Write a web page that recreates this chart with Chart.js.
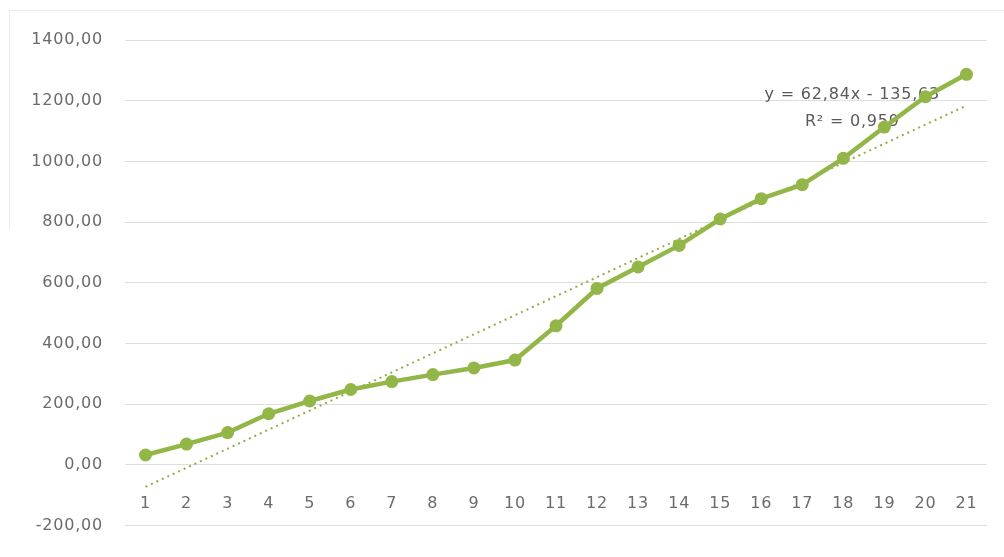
<!DOCTYPE html>
<html lang="es">
<head>
    <meta charset="UTF-8">
    <title>Serie con línea de tendencia</title>
    <script src="https://cdn.jsdelivr.net/npm/chart.js@4.4.0/dist/chart.umd.min.js"></script>
    <style>
        body { margin: 0; background: #fff; }
        #wrap { position: relative; width: 1004px; height: 557px; }
        #frameTop { position: absolute; left: 9px; top: 10px; width: 995px; height: 0; border-top: 1px solid #ececec; }
        #frameLeft { position: absolute; left: 9px; top: 10px; width: 0; height: 220px; border-left: 1px solid #ececec; }
    </style>
</head>
<body>
<div id="wrap">
    <div id="frameTop"></div>
    <div id="frameLeft"></div>
    <canvas id="chart" width="1004" height="557"></canvas>
</div>
<script>
    const labels = ['1','2','3','4','5','6','7','8','9','10','11','12','13','14','15','16','17','18','19','20','21'];
    const values = [32, 68, 106, 168, 210, 248, 274, 297, 319, 345, 458, 581, 652, 723, 810, 877, 923, 1010, 1113, 1213, 1287];
    const yTicks = [-200, 0, 200, 400, 600, 800, 1000, 1200, 1400];

    // trendline as given by the equation label
    const trendSlope = 62.84;
    const trendIntercept = -135.63;
    const trendText = ['y = 62,84x - 135,63', 'R² = 0,959'];
    const trend = labels.map((l, i) => trendSlope * (i + 1) + trendIntercept);

    const green = '#93b648';
    const font = "'DejaVu Sans', sans-serif";

    // the original text is set wide, add a little spacing
    const spacing = {
        id: 'spacing',
        beforeUpdate(chart) { chart.ctx.letterSpacing = '0.8px'; },
        beforeDraw(chart) { chart.ctx.letterSpacing = '0.8px'; }
    };

    const trendLabel = {
        id: 'trendLabel',
        beforeDatasetsDraw(chart) {
            const { ctx, scales: { x, y } } = chart;
            ctx.save();
            ctx.font = '16px ' + font;
            ctx.fillStyle = '#595959';
            ctx.textAlign = 'center';
            ctx.textBaseline = 'middle';
            const px = x.getPixelForValue(17) + 9;
            ctx.fillText(trendText[0], px, y.getPixelForValue(1200) - 6);
            ctx.fillText(trendText[1], px, y.getPixelForValue(1200) + 21);
            ctx.restore();
        }
    };

    new Chart(document.getElementById('chart'), {
        type: 'line',
        data: {
            labels: labels,
            datasets: [{
                data: values,
                borderColor: green,
                backgroundColor: green,
                borderWidth: 4.5,
                pointRadius: 6.5,
                pointBorderWidth: 0,
                tension: 0,
                order: 1
            }, {
                data: trend,
                borderColor: '#8fae45',
                borderWidth: 2,
                borderDash: [2, 4],
                pointRadius: 0,
                tension: 0,
                order: 2
            }]
        },
        options: {
            responsive: false,
            animation: false,
            layout: { padding: { left: 0, top: 40, right: 17, bottom: 12 } },
            plugins: { legend: { display: false }, tooltip: { enabled: false } },
            scales: {
                x: {
                    position: { y: 0 },
                    offset: true,
                    grid: { display: false },
                    border: { display: false },
                    ticks: { padding: 22, color: '#6b6b6b', font: { family: font, size: 16 }, maxRotation: 0, autoSkip: false }
                },
                y: {
                    min: -200,
                    max: 1400,
                    afterFit: s => { s.width = 125; },
                    afterBuildTicks: s => { s.ticks = yTicks.map(v => ({ value: v })); },
                    grid: { color: '#dedede', lineWidth: 1, drawTicks: false },
                    border: { display: false },
                    ticks: {
                        padding: 22,
                        color: '#6b6b6b',
                        font: { family: font, size: 16 },
                        callback: v => v.toFixed(2).replace('.', ',')
                    }
                }
            }
        },
        plugins: [spacing, trendLabel]
    });
</script>
</body>
</html>
